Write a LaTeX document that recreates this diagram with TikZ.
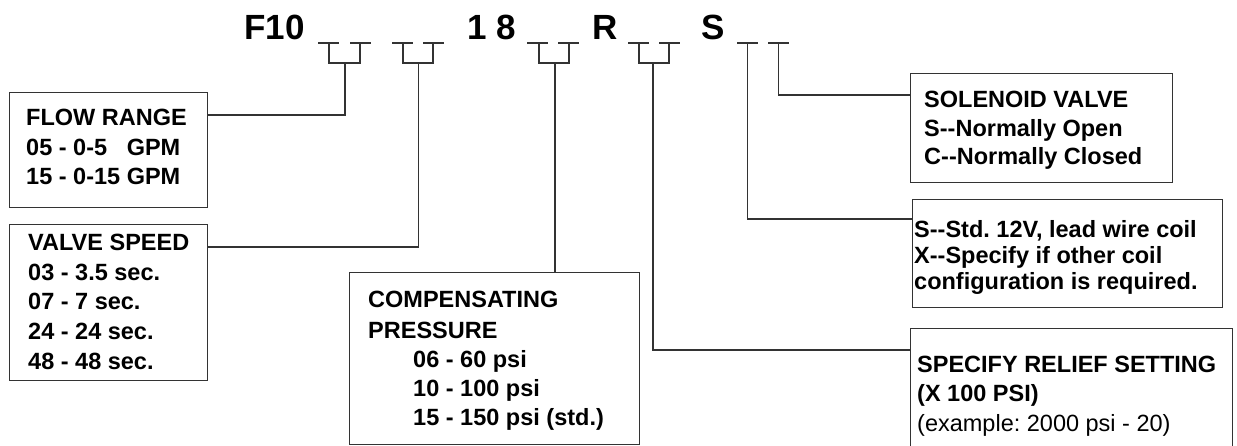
\documentclass[tikz,border=0pt]{standalone}
\usepackage{fontspec}
\newfontfamily\lib{Liberation Sans}
\frenchspacing
\begin{document}
\begin{tikzpicture}[x=1pt,y=-1pt,
  ln/.style={draw=black!80, line width=1.1pt},
  box/.style={draw=black!80, line width=1.3pt, rectangle, inner sep=0pt, anchor=north west},
  txt/.style={anchor=base west, inner sep=0pt, font=\lib\fontsize{23.5}{28}\selectfont\bfseries},
  rtxt/.style={anchor=base west, inner sep=0pt, font=\lib\fontsize{23.5}{28}\selectfont},
  hdr/.style={anchor=base west, inner sep=0pt, font=\lib\fontsize{35}{40}\selectfont\bfseries}]
\useasboundingbox (0,0) rectangle (1237,446);
\clip (0,0) rectangle (1237,446);
% header
\node[hdr] (h1) at (244,40) {F10};
\node[hdr] (h2) at (467,40) {1 8};
\node[hdr] (h3) at (592,40) {R};
\node[hdr] (h4) at (701,40) {S};
% dashes
\foreach \a in {318,350,392,423,527,558,628,659,737,768}
  \draw[ln] (\a,43) -- ++(21,0);
% brackets
\foreach \l/\r in {329/360,403/433,539/569,639/669}
  \draw[ln] (\l,43) -- (\l,63) -- (\r,63) -- (\r,43);
\coordinate (s1) at (345,63);
\coordinate (s2) at (418.5,63);
\coordinate (s3) at (555,63);
\coordinate (s4) at (653,63);
\coordinate (s5) at (747.5,43);
\coordinate (s6) at (778.5,43);
% boxes
\node[box, minimum width=198pt, minimum height=115pt] (flow) at (9,92) {};
\node[box, minimum width=198pt, minimum height=156pt] (valve) at (9,224) {};
\node[box, minimum width=290pt, minimum height=172pt] (comp) at (349,272) {};
\node[box, minimum width=262pt, minimum height=109pt] (sol) at (910,73) {};
\node[box, minimum width=310pt, minimum height=108pt] (coil) at (912,199) {};
\node[box, minimum width=322pt, minimum height=150pt] (relief) at (910,328) {};
% connector levels
\coordinate (y1) at (0,115);
\coordinate (y2) at (0,247);
\coordinate (y4) at (0,350);
\coordinate (y5) at (0,219);
\coordinate (y6) at (0,95);
\draw[ln] (s1) |- (flow.east |- y1);
\draw[ln] (s2) |- (valve.east |- y2);
\draw[ln] (s3) -- (comp.north -| s3);
\draw[ln] (s4) |- (relief.west |- y4);
\draw[ln] (s5) |- (coil.west |- y5);
\draw[ln] (s6) |- (sol.west |- y6);
% texts
\node[txt] (f1) at (26,126) {FLOW RANGE};
\node[txt] (f2) at (26,156) {05 - 0-5\phantom{1} GPM};
\node[txt] (f3) at (26,185) {15 - 0-15 GPM};
\node[txt] (v1) at (28,251) {VALVE SPEED};
\node[txt] (v2) at (28,281) {03 - 3.5 sec.};
\node[txt] (v3) at (28,310) {07 - 7 sec.};
\node[txt] (v4) at (28,340) {24 - 24 sec.};
\node[txt] (v5) at (28,369) {48 - 48 sec.};
\node[txt] (c1) at (368,308) {COMPENSATING};
\node[txt] (c2) at (368,338) {PRESSURE};
\node[txt] (c3) at (413,367) {06 - 60 psi};
\node[txt] (c4) at (413,396) {10 - 100 psi};
\node[txt] (c5) at (413,425) {15 - 150 psi (std.)};
\node[txt] (o1) at (924,108) {SOLENOID VALVE};
\node[txt] (o2) at (924,137) {S--Normally Open};
\node[txt] (o3) at (924,165) {C--Normally Closed};
\node[txt] (k1) at (914,238) {S--Std. 12V, lead wire coil};
\node[txt] (k2) at (914,264) {X--Specify if other coil};
\node[txt] (k3) at (914,290) {configuration is required.};
\node[txt] (r1) at (917,372) {SPECIFY RELIEF SETTING};
\node[txt] (r2) at (917,401) {(X 100 PSI)};
\node[rtxt] (r3) at (917,431) {(example: 2000 psi - 20)};
\end{tikzpicture}
\end{document}
